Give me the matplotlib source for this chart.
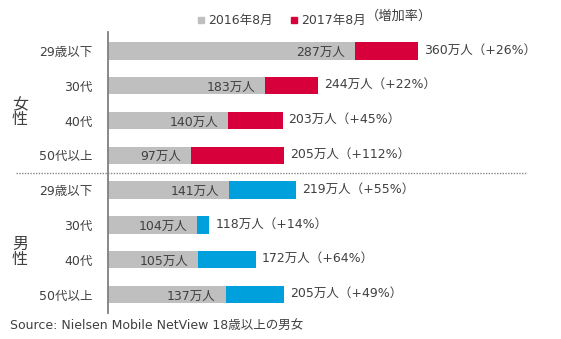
import matplotlib
matplotlib.use("Agg")
import matplotlib.pyplot as plt
import matplotlib.transforms as mtransforms
from matplotlib.lines import Line2D
from matplotlib.patches import Rectangle

plt.rcParams['font.family'] = ['DejaVu Sans', 'Noto Sans CJK JP']

categories = ["29歳以下", "30代", "40代", "50代以上", "29歳以下", "30代", "40代", "50代以上"]
genders = ["女\n性", "男\n性"]
values_2016 = [287, 183, 140, 97, 141, 104, 105, 137]
values_2017 = [360, 244, 203, 205, 219, 118, 172, 205]
growth_pct = [26, 22, 45, 112, 55, 14, 64, 49]
legend_labels = ["2016年8月", "2017年8月", "（増加率）"]
source_text = "Source: Nielsen Mobile NetView 18歳以上の男女"

GRAY = "#BFBFBF"
RED = "#D8003A"
BLUE = "#00A0DC"
TXT = "#404040"

W, H = 561, 339
fig = plt.figure(figsize=(W / 100, H / 100), dpi=100)

ax_left, ax_right, ax_top, ax_bottom = 108, 561, 32, 313
ax = fig.add_axes([ax_left / W, (H - ax_bottom) / H, (ax_right - ax_left) / W, (ax_bottom - ax_top) / H])

px_per_unit = 0.86
ax.set_xlim(0, (ax_right - ax_left) / px_per_unit)
spacing = 34.79
ax.set_ylim(7 + (ax_bottom - 294.5) / spacing, -(51 - ax_top) / spacing)

n = len(categories)
ys = list(range(n))
bar_h = 0.5
colors = [RED] * 4 + [BLUE] * 4
inc = [b - a for a, b in zip(values_2016, values_2017)]
ax.barh(ys, values_2016, height=bar_h, color=GRAY)
ax.barh(ys, inc, left=values_2016, height=bar_h, color=colors)

for i in range(n):
    ax.annotate(f"{values_2016[i]}万人", (values_2016[i], i), xytext=(-10, -1.5),
                textcoords="offset pixels", ha="right", va="center", fontsize=9, color=TXT)
    ax.annotate(f"{values_2017[i]}万人（+{growth_pct[i]}%）", (values_2017[i], i), xytext=(6, 1),
                textcoords="offset pixels", ha="left", va="center", fontsize=9, color=TXT)

for s in ["top", "right", "bottom"]:
    ax.spines[s].set_visible(False)
ax.spines["left"].set_color("#7F7F7F")
ax.spines["left"].set_linewidth(1.3)
ax.set_xticks([])
ax.set_yticks(ys)
ax.set_yticklabels(categories, fontsize=9, color=TXT)
ax.tick_params(axis="y", length=0, pad=11)

# separator dotted line
bt = mtransforms.blended_transform_factory(fig.transFigure, ax.transData)
fig.add_artist(Line2D([16 / W, 527 / W], [3.5, 3.5], transform=bt, color="#888888",
                      linestyle=(0, (1, 1)), linewidth=1.0))

# gender labels
fig.text(20 / W, 1 - 112 / H, genders[0], ha="center", va="center", fontsize=11.5,
         color=TXT, linespacing=1.0)
fig.text(20 / W, 1 - 252 / H, genders[1], ha="center", va="center", fontsize=11.5,
         color=TXT, linespacing=1.0)

# legend
fig.add_artist(Rectangle((198 / W, 1 - 23 / H), 6 / W, 6 / H, color=GRAY, transform=fig.transFigure))
fig.text(208 / W, 1 - 20 / H, legend_labels[0], ha="left", va="center", fontsize=9, color=TXT)
fig.add_artist(Rectangle((291 / W, 1 - 23 / H), 6 / W, 6 / H, color=RED, transform=fig.transFigure))
fig.text(301 / W, 1 - 20 / H, legend_labels[1], ha="left", va="center", fontsize=9, color=TXT)
fig.text(366 / W, 1 - 16 / H, legend_labels[2], ha="left", va="center", fontsize=9.5, color=TXT)

fig.text(10 / W, 1 - 326 / H, source_text, ha="left", va="center", fontsize=9, color=TXT)

fig.savefig("out.png", dpi=100)
